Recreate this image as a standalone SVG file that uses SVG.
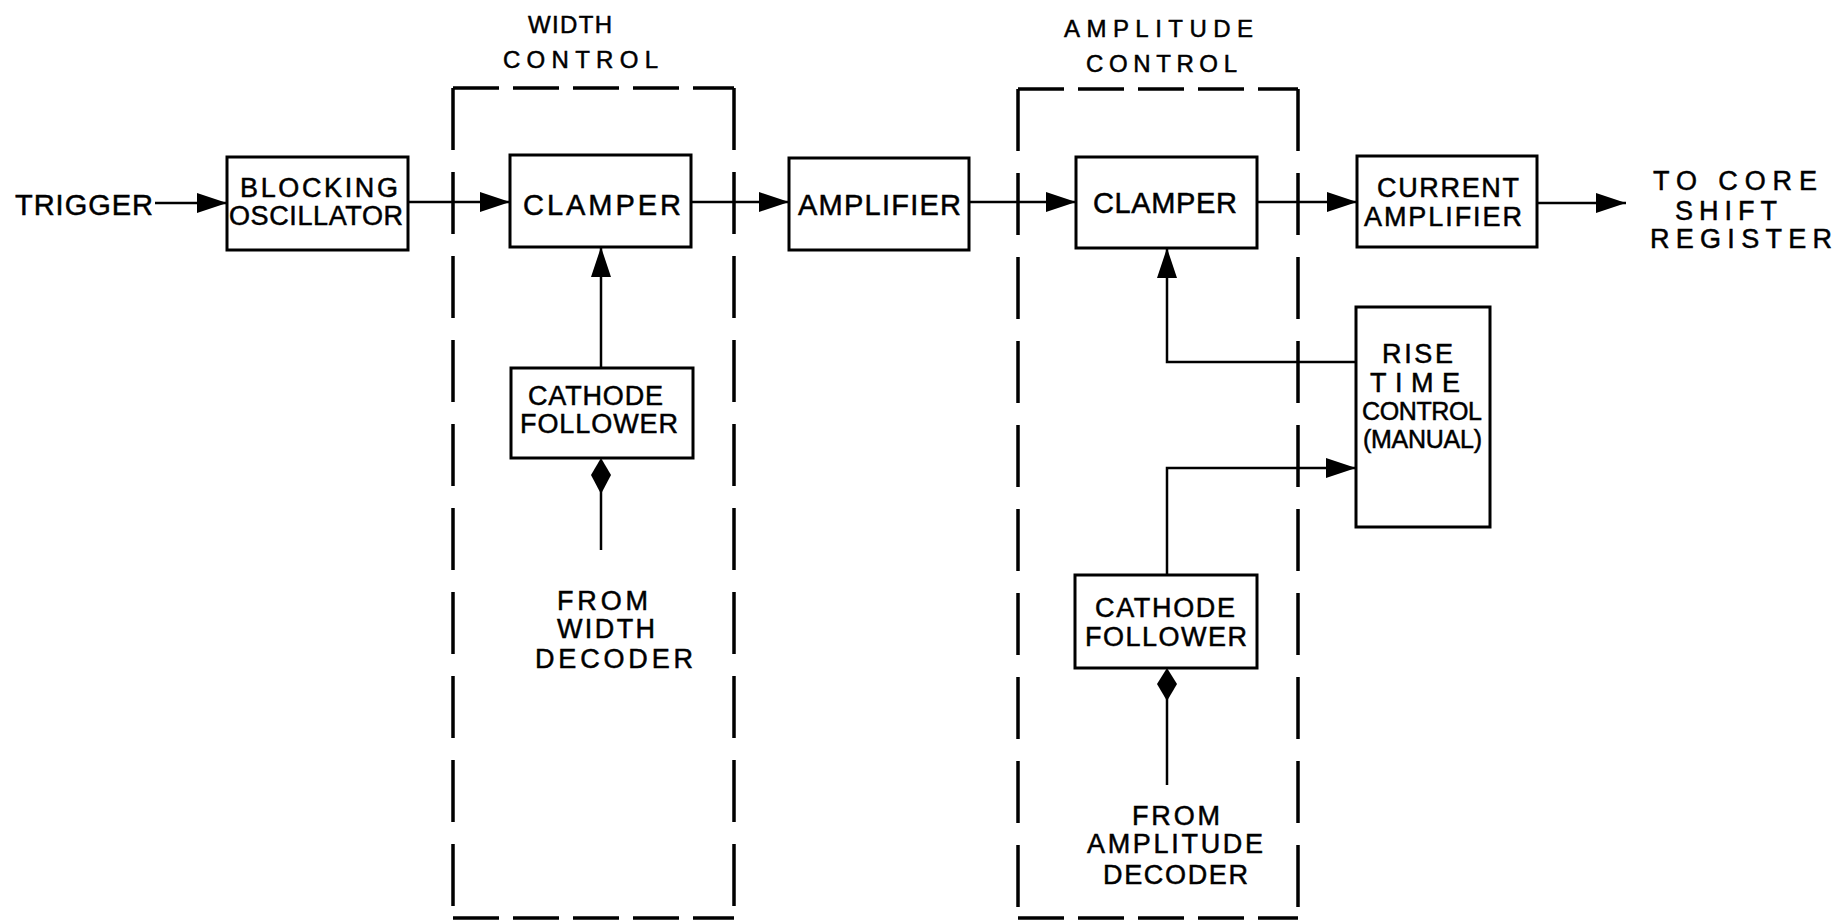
<svg xmlns="http://www.w3.org/2000/svg" width="1841" height="922" viewBox="0 0 1841 922">
<style>
.t{font-family:"Liberation Sans",Arial,sans-serif;font-size:27px;fill:#000;stroke:#000;stroke-width:0.5}
.h{font-size:24px}
.b{font-size:29px}
.s{font-size:25px}
.box{fill:none;stroke:#000;stroke-width:3}
.dash{fill:none;stroke:#000;stroke-width:3.5;stroke-dasharray:62 22}
.dashT{fill:none;stroke:#000;stroke-width:3.5;stroke-dasharray:46 14}
.c{fill:none;stroke:#000;stroke-width:2.5}
</style>
<defs>
<marker id="ah" markerUnits="userSpaceOnUse" markerWidth="30" markerHeight="20" refX="30" refY="10" orient="auto">
<path d="M0,0 L30,10 L0,20 Z" fill="#000"/>
</marker>
</defs>
<rect width="1841" height="922" fill="#fff"/>

<g id="width-control">
<path class="dashT" d="M453,88 H734"/>
<path class="dash" d="M453,88 V918"/>
<path class="dash" d="M734,88 V918"/>
<path class="dashT" d="M453,918 H734"/>
<text class="t h" x="528" y="33" textLength="84">WIDTH</text>
<text class="t h" x="503" y="68" textLength="155">CONTROL</text>
</g>

<g id="amplitude-control">
<path class="dashT" d="M1018,89 H1298"/>
<path class="dash" d="M1018,89 V918"/>
<path class="dash" d="M1298,89 V918"/>
<path class="dashT" d="M1018,918 H1298"/>
<text class="t h" x="1064" y="37" textLength="189">AMPLITUDE</text>
<text class="t h" x="1086" y="72" textLength="151">CONTROL</text>
</g>

<g id="trigger">
<text class="t b" x="15" y="215" textLength="138">TRIGGER</text>
</g>

<g id="blocking-oscillator">
<rect class="box" x="227" y="157" width="181" height="93"/>
<text class="t" x="240" y="197" textLength="158">BLOCKING</text>
<text class="t" x="229" y="225" textLength="174">OSCILLATOR</text>
</g>

<g id="width-clamper">
<rect class="box" x="510" y="155" width="181" height="92"/>
<text class="t b" x="523" y="215" textLength="158">CLAMPER</text>
</g>

<g id="width-cathode-follower">
<rect class="box" x="511" y="368" width="182" height="90"/>
<text class="t" x="528" y="405" textLength="135">CATHODE</text>
<text class="t" x="520" y="433" textLength="158">FOLLOWER</text>
</g>

<g id="from-width-decoder">
<text class="t" x="557" y="610" textLength="91">FROM</text>
<text class="t" x="557" y="638" textLength="98">WIDTH</text>
<text class="t" x="535" y="668" textLength="158">DECODER</text>
</g>

<g id="amplifier">
<rect class="box" x="789" y="158" width="180" height="92"/>
<text class="t b" x="798" y="215" textLength="163">AMPLIFIER</text>
</g>

<g id="amplitude-clamper">
<rect class="box" x="1076" y="157" width="181" height="91"/>
<text class="t b" x="1093" y="213" textLength="144">CLAMPER</text>
</g>

<g id="current-amplifier">
<rect class="box" x="1357" y="156" width="180" height="91"/>
<text class="t" x="1377" y="197" textLength="142">CURRENT</text>
<text class="t" x="1364" y="226" textLength="158">AMPLIFIER</text>
</g>

<g id="to-core-shift-register">
<text class="t" x="1653" y="190" textLength="164">TO CORE</text>
<text class="t" x="1675" y="220" textLength="102">SHIFT</text>
<text class="t" x="1650" y="248" textLength="182">REGISTER</text>
</g>

<g id="rise-time-control">
<rect class="box" x="1356" y="307" width="134" height="220"/>
<text class="t" x="1382" y="363" textLength="71">RISE</text>
<text class="t" x="1370" y="392" textLength="90">TIME</text>
<text class="t s" x="1362" y="420" textLength="120">CONTROL</text>
<text class="t s" x="1363" y="448" textLength="119">(MANUAL)</text>
</g>

<g id="amplitude-cathode-follower">
<rect class="box" x="1075" y="575" width="182" height="93"/>
<text class="t" x="1095" y="617" textLength="140">CATHODE</text>
<text class="t" x="1085" y="646" textLength="162">FOLLOWER</text>
</g>

<g id="from-amplitude-decoder">
<text class="t" x="1132" y="825" textLength="88">FROM</text>
<text class="t" x="1087" y="853" textLength="176">AMPLITUDE</text>
<text class="t" x="1103" y="884" textLength="145">DECODER</text>
</g>

<g id="connectors">
<path class="c" d="M155,203 H227" marker-end="url(#ah)"/>
<path class="c" d="M408,202 H510" marker-end="url(#ah)"/>
<path class="c" d="M691,202 H789" marker-end="url(#ah)"/>
<path class="c" d="M969,202 H1076" marker-end="url(#ah)"/>
<path class="c" d="M1257,202 H1357" marker-end="url(#ah)"/>
<path class="c" d="M1537,203 H1626" marker-end="url(#ah)"/>
<path class="c" d="M601,368 V247" marker-end="url(#ah)"/>
<path class="c" d="M601,550 V490"/>
<path d="M601,458 L611,475 L601,494 L591,475 Z" fill="#000"/>
<path class="c" d="M1356,362 H1167 V248" marker-end="url(#ah)"/>
<path class="c" d="M1167,575 V468 H1356" marker-end="url(#ah)"/>
<path class="c" d="M1167,785 V696"/>
<path d="M1167,668 L1177,684 L1167,701 L1157,684 Z" fill="#000"/>
</g>
</svg>
